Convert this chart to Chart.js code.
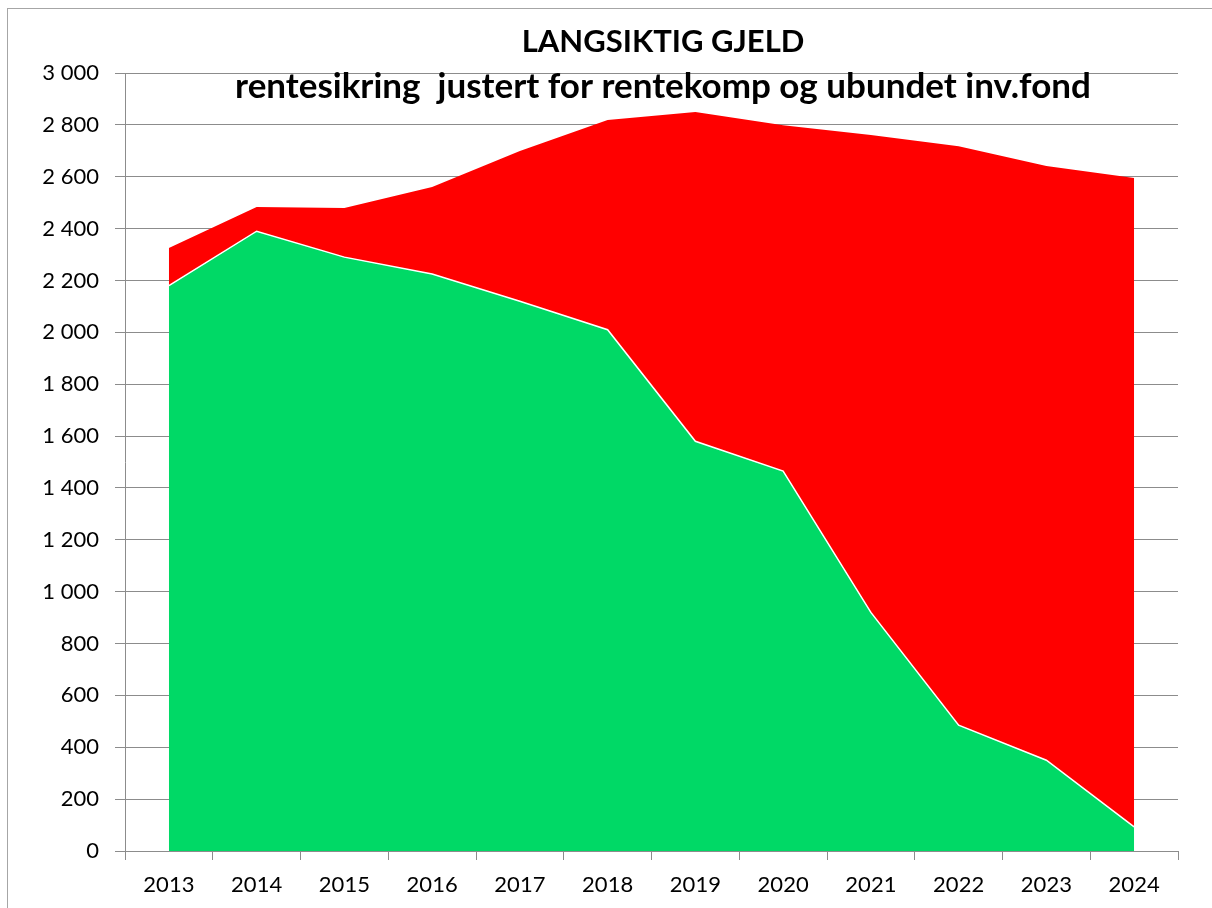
<!DOCTYPE html>
<html>
<head>
<meta charset="utf-8">
<script src="https://cdn.jsdelivr.net/npm/chart.js@4"></script>
<style>
  html, body { margin: 0; padding: 0; background: #fff; }
  #wrap { width: 1212px; height: 908px; }
</style>
</head>
<body>
<div id="wrap"><canvas id="chart" width="1212" height="908"></canvas></div>
<script>
const years = ["2013", "2014", "2015", "2016", "2017", "2018", "2019", "2020", "2021", "2022", "2023", "2024"];
// green part: sikret del
const secured = [2180, 2390, 2290, 2225, 2120, 2010, 1580, 1465, 920, 485, 350, 93];
// red part stacked on top
const unsecured = [145, 93, 189, 335, 579, 809, 1270, 1334, 1841, 2233, 2291, 2502];
const yTicks = [0, 200, 400, 600, 800, 1000, 1200, 1400, 1600, 1800, 2000, 2200, 2400, 2600, 2800, 3000];
const titleLines = ["LANGSIKTIG GJELD", "rentesikring  justert for rentekomp og ubundet inv.fond"];

const FONT = "Lato, 'Liberation Sans', sans-serif";

const frame = {
  id: "frame",
  beforeDraw(chart) {
    const ctx = chart.ctx;
    ctx.save();
    ctx.fillStyle = "#fff";
    ctx.fillRect(0, 0, chart.width, chart.height);
    ctx.strokeStyle = "#a6a6a6";
    ctx.lineWidth = 1;
    ctx.strokeRect(7.5, 8.5, chart.width + 10, chart.height + 10);
    ctx.restore();
  },
  afterDraw(chart) {
    const ctx = chart.ctx;
    ctx.save();
    ctx.fillStyle = "#000";
    ctx.textAlign = "center";
    ctx.textBaseline = "alphabetic";
    ctx.font = "bold 31px " + FONT;
    ctx.fillText(titleLines[0], 663, 52);
    ctx.font = "bold 35px " + FONT;
    ctx.fillText(titleLines[1], 663, 98);
    ctx.restore();
  }
};

new Chart(document.getElementById("chart"), {
  type: "line",
  data: {
    labels: years,
    datasets: [
      {
        label: "sikret",
        data: secured,
        fill: "origin",
        backgroundColor: "rgb(0,217,102)",
        borderColor: "#ffffff",
        borderWidth: 1.5,
        pointRadius: 0,
        tension: 0
      },
      {
        label: "usikret",
        data: unsecured,
        fill: "-1",
        backgroundColor: "#ff0000",
        borderColor: "#ff0000",
        borderWidth: 0,
        pointRadius: 0,
        tension: 0
      }
    ]
  },
  options: {
    responsive: false,
    animation: false,
    layout: { padding: { left: 0, right: 34, top: 73, bottom: 0 } },
    plugins: {
      legend: { display: false },
      title: { display: false },
      tooltip: { enabled: false }
    },
    scales: {
      x: {
        offset: true,
        grid: {
          offset: true,
          drawOnChartArea: false,
          drawTicks: true,
          tickLength: 9,
          color: "#8c8c8c"
        },
        border: { color: "#8c8c8c", width: 1 },
        ticks: {
          color: "#000",
          font: { family: FONT, size: 22 },
          padding: 12,
          maxRotation: 0
        },
        afterFit(scale) { scale.height = 57; }
      },
      y: {
        stacked: true,
        min: 0,
        max: 3000,
        afterBuildTicks(scale) { scale.ticks = yTicks.map(v => ({ value: v })); },
        grid: {
          color: "#8c8c8c",
          lineWidth: 1,
          tickLength: 10
        },
        border: { color: "#8c8c8c", width: 1 },
        ticks: {
          color: "#000",
          font: { family: FONT, size: 22 },
          padding: 16,
          callback: v => String(v).replace(/\B(?=(\d{3})+(?!\d))/g, " ")
        },
        afterFit(scale) { scale.width = 125; }
      }
    }
  },
  plugins: [frame]
});
</script>
</body>
</html>
